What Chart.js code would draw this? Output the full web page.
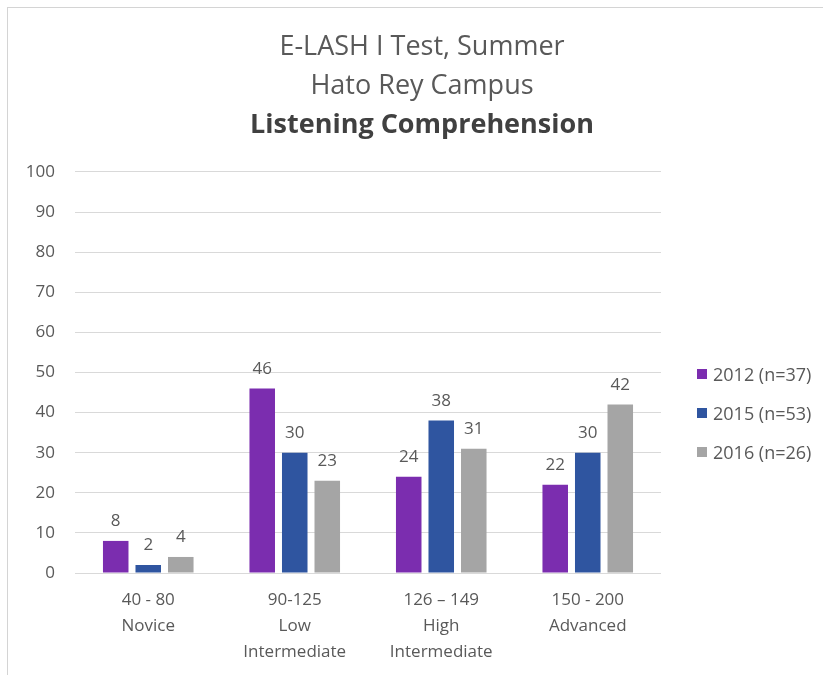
<!DOCTYPE html>
<html>
<head>
<meta charset="utf-8">
<script src="https://cdn.jsdelivr.net/npm/chart.js@4.4.1/dist/chart.umd.min.js"></script>
<style>
  html, body { margin: 0; padding: 0; background: #fff; }
  #wrap { position: relative; width: 823px; height: 675px; overflow: hidden; }
  #frame { position: absolute; left: 7px; top: 7px; width: 830px; height: 680px;
           border-left: 1px solid #d4d4d4; border-top: 1px solid #d4d4d4; }
  #chart { position: absolute; left: 0; top: 0; }
  #legend { position: absolute; left: 697px; top: 0; font-family: "Open Sans", sans-serif;
            font-size: 18px; color: #595959; }
  .item { position: absolute; left: 0; white-space: nowrap; height: 20px; line-height: 20px; }
  .sw { position: absolute; left: 0; top: 5px; width: 10px; height: 10px; }
  .txt { position: absolute; left: 16px; top: 0; }
</style>
</head>
<body>
<div id="wrap">
  <div id="frame"></div>
  <canvas id="chart" width="823" height="675"></canvas>
  <div id="legend"></div>
</div>
<script>
// categories (multi line labels)
const categories = [
    ['40 - 80', 'Novice'],
    ['90-125', 'Low', 'Intermediate'],
    ['126 \u2013 149', 'High', 'Intermediate'],
    ['150 - 200', 'Advanced']
]

// series
const seriesNames = ['2012 (n=37)', '2015 (n=53)', '2016 (n=26)']
const values2012 = [8, 46, 24, 22]
const values2015 = [2, 30, 38, 30]
const values2016 = [4, 23, 31, 42]

// y axis
const yMin = 0
const yMax = 100
const yStep = 10

const titleLines = ['E-LASH I Test, Summer', 'Hato Rey Campus']
const subtitleText = 'Listening Comprehension'

const barColors = ['#7b2daf', '#2f55a0', '#a5a5a5']
const textColor = '#595959'
const fontFamily = '"Open Sans", sans-serif'

// plugin that writes the value above each bar
const valueLabels = {
    id: 'valueLabels',
    afterDatasetsDraw(chart) {
        const ctx = chart.ctx
        ctx.save()
        ctx.font = '17px ' + fontFamily
        ctx.fillStyle = textColor
        ctx.textAlign = 'center'
        ctx.textBaseline = 'alphabetic'
        chart.data.datasets.forEach((ds, i) => {
            chart.getDatasetMeta(i).data.forEach((bar, j) => {
                ctx.fillText(ds.data[j], bar.x, bar.y - 15)
            })
        })
        ctx.restore()
    }
}

const allSeries = [values2012, values2015, values2016]

new Chart(document.getElementById('chart'), {
    type: 'bar',
    plugins: [valueLabels],
    data: {
        labels: categories,
        datasets: allSeries.map((vals, i) => ({
            label: seriesNames[i],
            data: vals,
            backgroundColor: barColors[i],
            barPercentage: 0.785,
            categoryPercentage: 0.666
        }))
    },
    options: {
        responsive: false,
        animation: false,
        layout: { padding: { left: 21, right: 0, top: 0, bottom: 10 } },
        plugins: {
            legend: { display: false },
            tooltip: { enabled: false },
            title: {
                display: true,
                text: titleLines,
                color: textColor,
                font: { family: fontFamily, size: 27, weight: 'normal', lineHeight: 1.444 },
                padding: { top: 28, bottom: 0 }
            },
            subtitle: {
                display: true,
                text: subtitleText,
                color: '#404040',
                font: { family: fontFamily, size: 27, weight: 'bold', lineHeight: 1.444 },
                padding: { top: 0, bottom: 27 }
            }
        },
        scales: {
            x: {
                grid: { display: false, drawTicks: false },
                border: { display: false },
                ticks: {
                    color: textColor,
                    font: { family: fontFamily, size: 17, lineHeight: 1.53 },
                    maxRotation: 0,
                    autoSkip: false,
                    padding: 14
                },
                afterFit: (s) => { s.height = 92 }
            },
            y: {
                min: yMin,
                max: yMax,
                grid: { color: '#d9d9d9', drawTicks: false },
                border: { display: false },
                ticks: {
                    stepSize: yStep,
                    color: textColor,
                    font: { family: fontFamily, size: 17 },
                    padding: 20
                },
                afterFit: (s) => { s.width = 54 }
            },
            // empty axis on the right, keeps room for the legend
            spacer: {
                type: 'linear',
                position: 'right',
                grid: { display: false, drawTicks: false },
                border: { display: false },
                ticks: { display: false },
                afterFit: (s) => { s.width = 162 }
            }
        }
    }
})

// legend
const legend = document.getElementById('legend')
const legendRows = [374, 413, 452]
seriesNames.forEach((name, i) => {
    const item = document.createElement('div')
    item.className = 'item'
    item.style.top = (legendRows[i] - 10) + 'px'
    item.innerHTML = '<span class="sw" style="background:' + barColors[i] + '"></span><span class="txt">' + name + '</span>'
    legend.appendChild(item)
})
</script>
</body>
</html>
